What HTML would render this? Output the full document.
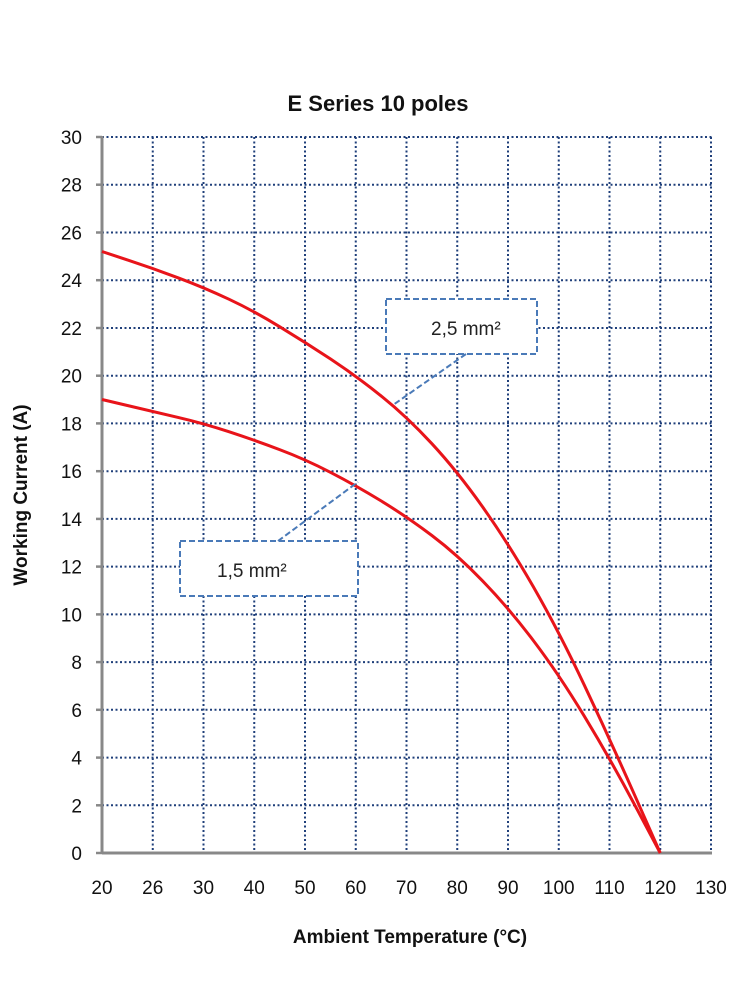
<!DOCTYPE html>
<html><head><style>body{margin:0;background:#fff}svg{display:block}text{font-family:"Liberation Sans",sans-serif}</style></head>
<body>
<svg width="750" height="1000" viewBox="0 0 750 1000" xmlns="http://www.w3.org/2000/svg">
<rect width="750" height="1000" fill="#fff"/>
<g stroke="#1f3f7a" stroke-width="2" stroke-dasharray="2,2.5" fill="none">
<line x1="102" y1="137" x2="712" y2="137"/><line x1="102" y1="184.7" x2="712" y2="184.7"/><line x1="102" y1="232.5" x2="712" y2="232.5"/><line x1="102" y1="280.2" x2="712" y2="280.2"/><line x1="102" y1="328" x2="712" y2="328"/><line x1="102" y1="375.7" x2="712" y2="375.7"/><line x1="102" y1="423.4" x2="712" y2="423.4"/><line x1="102" y1="471.2" x2="712" y2="471.2"/><line x1="102" y1="518.9" x2="712" y2="518.9"/><line x1="102" y1="566.6" x2="712" y2="566.6"/><line x1="102" y1="614.4" x2="712" y2="614.4"/><line x1="102" y1="662.1" x2="712" y2="662.1"/><line x1="102" y1="709.8" x2="712" y2="709.8"/><line x1="102" y1="757.6" x2="712" y2="757.6"/><line x1="102" y1="805.3" x2="712" y2="805.3"/>
<line x1="152.75" y1="137" x2="152.75" y2="853"/><line x1="203.5" y1="137" x2="203.5" y2="853"/><line x1="254.25" y1="137" x2="254.25" y2="853"/><line x1="305" y1="137" x2="305" y2="853"/><line x1="355.75" y1="137" x2="355.75" y2="853"/><line x1="406.5" y1="137" x2="406.5" y2="853"/><line x1="457.25" y1="137" x2="457.25" y2="853"/><line x1="508" y1="137" x2="508" y2="853"/><line x1="558.75" y1="137" x2="558.75" y2="853"/><line x1="609.5" y1="137" x2="609.5" y2="853"/><line x1="660.25" y1="137" x2="660.25" y2="853"/><line x1="711" y1="137" x2="711" y2="853"/>
</g>
<g stroke="#888" stroke-width="3">
<line x1="102" y1="136" x2="102" y2="854"/><line x1="102" y1="853" x2="712" y2="853"/>
<g stroke-width="2.5"><line x1="96" y1="137" x2="102" y2="137"/><line x1="96" y1="184.7" x2="102" y2="184.7"/><line x1="96" y1="232.5" x2="102" y2="232.5"/><line x1="96" y1="280.2" x2="102" y2="280.2"/><line x1="96" y1="328" x2="102" y2="328"/><line x1="96" y1="375.7" x2="102" y2="375.7"/><line x1="96" y1="423.4" x2="102" y2="423.4"/><line x1="96" y1="471.2" x2="102" y2="471.2"/><line x1="96" y1="518.9" x2="102" y2="518.9"/><line x1="96" y1="566.6" x2="102" y2="566.6"/><line x1="96" y1="614.4" x2="102" y2="614.4"/><line x1="96" y1="662.1" x2="102" y2="662.1"/><line x1="96" y1="709.8" x2="102" y2="709.8"/><line x1="96" y1="757.6" x2="102" y2="757.6"/><line x1="96" y1="805.3" x2="102" y2="805.3"/><line x1="96" y1="853" x2="102" y2="853"/></g>
</g>
<g fill="none" stroke="#e8141a" stroke-width="3" stroke-linejoin="round">
<path d="M102,251.5 L127.4,259.9 Q152.75,268.2 178.1,277.8 Q203.5,287.3 228.9,299.2 Q254.25,311.1 279.6,326.7 Q305,342.2 330.4,358.9 Q355.75,375.6 381.1,395.9 Q406.5,416.2 431.9,443.7 Q457.25,471.1 482.6,506.9 Q508,542.7 533.4,586.9 Q558.75,631 584.1,684.7 Q609.5,738.4 634.9,795.7 L660.25,853"/>
<path d="M102,399.5 L127.4,405.5 Q152.75,411.4 178.1,417.4 Q203.5,423.3 228.9,431.7 Q254.25,440 279.6,449.6 Q305,459.1 330.4,472.3 Q355.75,485.4 381.1,500.9 Q406.5,516.4 431.9,535.5 Q457.25,554.6 482.6,580.9 Q508,607.1 533.4,640.6 Q558.75,674 584.1,715.8 Q609.5,757.5 634.9,805.3 L660.25,853"/>
</g>
<g stroke="#4a7ab8" stroke-width="2" stroke-dasharray="6,3" fill="#fff">
<rect x="386" y="299" width="151" height="55"/>
<rect x="180" y="541" width="178" height="55"/>
<line x1="466" y1="354" x2="393" y2="405"/>
<line x1="278" y1="541" x2="358" y2="482"/>
</g>
<text x="431" y="335" font-size="19" fill="#222">2,5 mm²</text>
<text x="217" y="577" font-size="19" fill="#222">1,5 mm²</text>
<text x="378" y="111" font-size="22" font-weight="bold" text-anchor="middle" fill="#111">E Series 10 poles</text>
<g font-size="19" fill="#111" text-anchor="end">
<text x="82" y="144">30</text><text x="82" y="191.7">28</text><text x="82" y="239.5">26</text><text x="82" y="287.2">24</text><text x="82" y="335">22</text><text x="82" y="382.7">20</text><text x="82" y="430.4">18</text><text x="82" y="478.2">16</text><text x="82" y="525.9">14</text><text x="82" y="573.6">12</text><text x="82" y="621.4">10</text><text x="82" y="669.1">8</text><text x="82" y="716.8">6</text><text x="82" y="764.6">4</text><text x="82" y="812.3">2</text><text x="82" y="860">0</text>
</g>
<g font-size="19" fill="#111" text-anchor="middle">
<text x="102" y="894">20</text><text x="152.75" y="894">26</text><text x="203.5" y="894">30</text><text x="254.25" y="894">40</text><text x="305" y="894">50</text><text x="355.75" y="894">60</text><text x="406.5" y="894">70</text><text x="457.25" y="894">80</text><text x="508" y="894">90</text><text x="558.75" y="894">100</text><text x="609.5" y="894">110</text><text x="660.25" y="894">120</text><text x="711" y="894">130</text>
</g>
<text x="410" y="943" font-size="19" font-weight="bold" text-anchor="middle" fill="#111">Ambient Temperature (°C)</text>
<text transform="translate(27,495) rotate(-90)" font-size="19" font-weight="bold" text-anchor="middle" fill="#111">Working Current (A)</text>
</svg>
</body></html>
